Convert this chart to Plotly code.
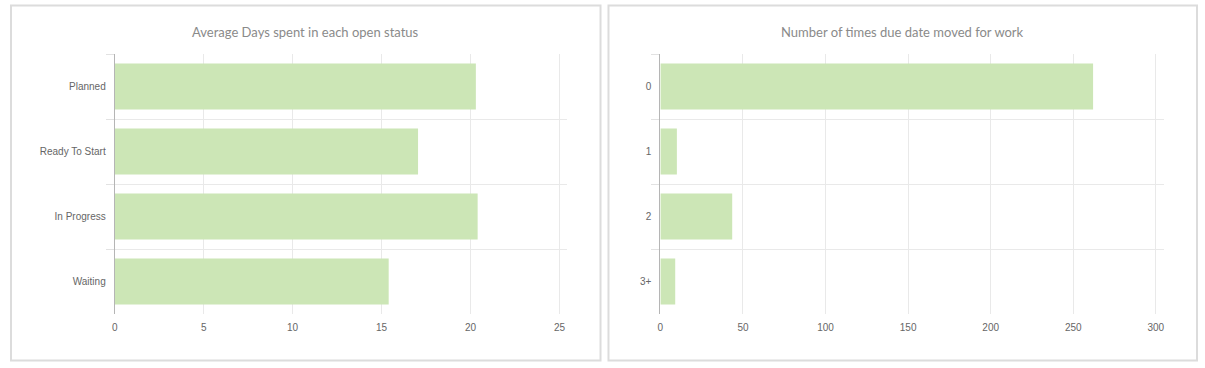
import plotly.graph_objects as go

W, H = 1205, 368

# Data
status_labels = ["Planned", "Ready To Start", "In Progress", "Waiting"]
status_days = [20.3, 17.05, 20.4, 15.4]

moved_labels = ["0", "1", "2", "3+"]
moved_counts = [262, 10, 43.5, 9]

titles = ["Average Days spent in each open status", "Number of times due date moved for work"]

BAR = "#cce6b6"
GRID = "#e9e9e9"
TICKC = "#666666"
TITLEC = "#8a8a8a"

def px(x):
    return x / W

def py(y):
    return 1 - y / H

fig = go.Figure()
fig.add_trace(go.Bar(x=status_days, y=status_labels, orientation="h",
                     marker=dict(color=BAR, line=dict(width=0)),
                     xaxis="x", yaxis="y", hoverinfo="x+y"))
fig.add_trace(go.Bar(x=moved_counts, y=moved_labels, orientation="h",
                     marker=dict(color=BAR, line=dict(width=0)),
                     xaxis="x2", yaxis="y2", hoverinfo="x+y"))

top, bot = 54, 314
ydom = [py(bot), py(top)]

common_x = dict(showgrid=True, gridcolor=GRID, gridwidth=1, zeroline=False,
                showline=False, ticks="", ticklabelstandoff=6,
                tickfont=dict(family="Liberation Sans, Arial, sans-serif", size=10, color=TICKC))
common_y = dict(type="category", autorange="reversed", tickson="boundaries",
                showgrid=True, gridcolor=GRID, gridwidth=1, zeroline=False,
                ticks="outside", ticklen=8, tickcolor="#e2e2e2", tickwidth=1,
                showline=True, linecolor="#b5b5b5", linewidth=1,
                tickfont=dict(family="Liberation Sans, Arial, sans-serif", size=10, color=TICKC),
                ticklabelstandoff=6)

fig.update_layout(
    width=W, height=H,
    margin=dict(l=0, r=0, t=0, b=0),
    paper_bgcolor="white", plot_bgcolor="white",
    showlegend=False, bargap=0.29,
    xaxis=dict(domain=[px(112), px(565)], range=[0, 25.4], dtick=5, anchor="y", **common_x),
    yaxis=dict(domain=ydom, anchor="x", **common_y),
    xaxis2=dict(domain=[px(659), px(1164)], range=[0, 305], dtick=50, anchor="y2", **common_x),
    yaxis2=dict(domain=ydom, anchor="x2", **common_y),
)

# panel borders
for x0, x1 in [(8, 599), (607, 1197)]:
    fig.add_shape(type="rect", xref="paper", yref="paper",
                  x0=px(x0), x1=px(x1), y0=py(360.5), y1=py(5.5),
                  line=dict(color="#dcdcdc", width=2), fillcolor="rgba(0,0,0,0)", layer="below")

# titles
for (cx, t) in [(303.5, titles[0]), (902, titles[1])]:
    fig.add_annotation(xref="paper", yref="paper", x=px(cx), y=py(32), text=t,
                       showarrow=False, xanchor="center", yanchor="middle",
                       font=dict(family="Lato, Open Sans, sans-serif", size=13, color=TITLEC))

fig.write_html("out.html", config={"displayModeBar": False},
               post_script="document.body.style.margin='0';document.body.style.overflow='hidden';")
